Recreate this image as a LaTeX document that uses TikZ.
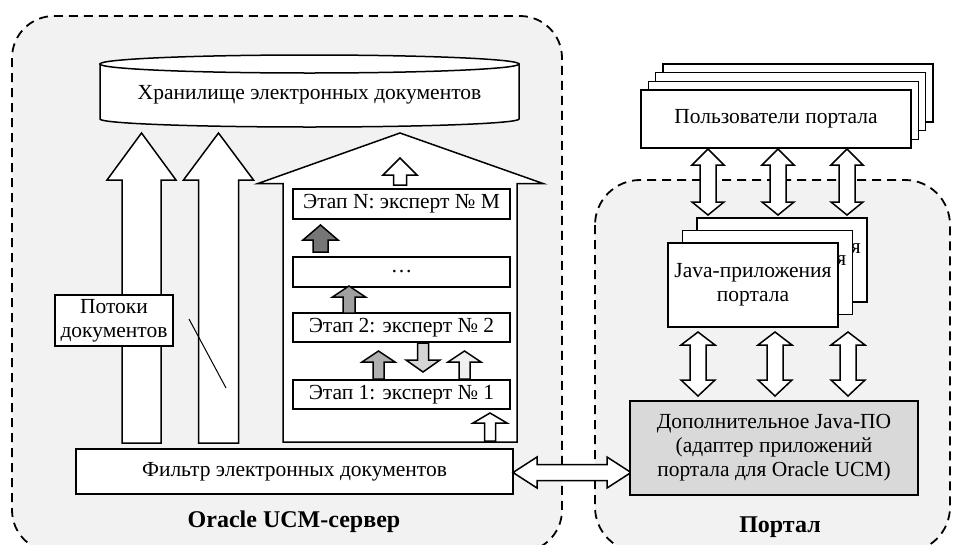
\documentclass[tikz,border=0pt]{standalone}
\usepackage{fontspec}
\setmainfont{Liberation Serif}
\definecolor{regfill}{HTML}{F2F2F2}
\definecolor{adfill}{HTML}{D9D9D9}
\definecolor{arDark}{HTML}{767676}
\definecolor{arMid}{HTML}{A0A0A0}
\definecolor{arGray}{HTML}{B0B0B0}
\definecolor{arLight}{HTML}{D6D6D6}
\definecolor{arPale}{HTML}{F0F0F0}
% block arrow: fill, cx, tip y, head base y, tail y, head half width, shaft half width
\newcommand{\blockup}[7]{%
  \draw[blk,fill=#1] (#2,#3) -- ({#2+#6},#4) -- ({#2+#7},#4) -- ({#2+#7},#5)
    -- ({#2-#7},#5) -- ({#2-#7},#4) -- ({#2-#6},#4) -- cycle;}
% vertical double arrow: cx, tip1, base1, base2, tip2, head half, shaft half
\newcommand{\dblv}[7]{%
  \draw[blk,fill=white] (#1,#2) -- ({#1+#6},#3) -- ({#1+#7},#3) -- ({#1+#7},#4)
    -- ({#1+#6},#4) -- (#1,#5) -- ({#1-#6},#4) -- ({#1-#7},#4) -- ({#1-#7},#3)
    -- ({#1-#6},#3) -- cycle;}
% horizontal double arrow: cy, tip1, base1, base2, tip2, head half, shaft half
\newcommand{\dblh}[7]{%
  \draw[blk,fill=white] (#2,#1) -- (#3,{#1-#6}) -- (#3,{#1-#7}) -- (#4,{#1-#7})
    -- (#4,{#1-#6}) -- (#5,#1) -- (#4,{#1+#6}) -- (#4,{#1+#7}) -- (#3,{#1+#7})
    -- (#3,{#1+#6}) -- cycle;}
\begin{document}
\begin{tikzpicture}[x=1pt,y=-1pt,
  font=\fontsize{21.5}{24}\selectfont,
  region/.style={draw=black, fill=regfill, line width=1.8pt, dash pattern=on 9pt off 6pt},
  blk/.style={draw=black, line width=1.5pt, line join=miter},
  box/.style={draw=black, fill=white, line width=1.5pt, inner sep=0pt, align=center},
  lbl/.style={font=\fontsize{24}{28}\selectfont\bfseries}]
\useasboundingbox (0,0) rectangle (955,544);

% regions
\draw[region, rounded corners=42pt] (12,16) rectangle (562,552);
\draw[region, rounded corners=45pt] (595,180) rectangle (950,552);

% storage cylinder
\filldraw[blk, fill=white] (100,64) -- (100,119)
  arc[start angle=180, end angle=0, x radius=209.5, y radius=8] -- (519,64) -- cycle;
\filldraw[blk, fill=white] (309.5,64) ellipse[x radius=209.5, y radius=9];
\node (store) at (309.5,95) {Хранилище электронных документов};

% big flow arrows
\blockup{white}{141.5}{133}{180}{443}{34.5}{19.5}
\blockup{white}{218.5}{133}{180}{443}{35}{20}

\node[box, minimum width=118pt, minimum height=51pt] (flows) at (114,320.5)
  {Потоки\\документов};
\draw[line width=1pt] (189,319) -- (226,388);

% house-shaped arrow
\draw[blk, fill=white] (400,133) -- (543,183.5) -- (517,183.5) -- (517,442)
  -- (283,442) -- (283,183.5) -- (258,183.5) -- cycle;

% stages
\node[box, minimum width=217pt, minimum height=30pt] (stN) at (401.5,204) {Этап N: эксперт № M};
\node[box, minimum width=217pt, minimum height=30pt] (stD) at (401.5,272) {…};
\node[box, minimum width=217pt, minimum height=29pt] (st2) at (401.5,327.5) {Этап 2: эксперт № 2};
\node[box, minimum width=217pt, minimum height=29pt] (st1) at (401.5,394.5) {Этап 1: эксперт № 1};

\blockup{white}{400}{158}{175}{185}{17}{6.5}
\blockup{arDark}{320.5}{225}{240}{252}{17.5}{7.5}
\blockup{arMid}{349}{286}{297}{313}{16.5}{6}
\blockup{arGray}{378.5}{351}{362}{379}{16.5}{5.5}
\blockup{arLight}{423}{372}{360}{343}{17}{5.5}
\blockup{arPale}{464.5}{351}{362}{379}{16.5}{5.5}
\blockup{white}{490}{413}{423}{441}{17}{5.5}

% filter
\node[box, minimum width=437pt, minimum height=45pt] (filter) at (294.5,471.5)
  {Фильтр электронных документов};

% link filter <-> adapter
\dblh{472.5}{513}{537}{607}{631}{15.5}{8}

% portal users
\foreach \i in {3,2,1}
  \node[box, minimum width=270pt, minimum height=58pt] (usr\i) at ({776+7.3*\i},{119-8.7*\i}) {};
\node[box, minimum width=270pt, minimum height=58pt] (users) at (776,119) {Пользователи портала};

\dblv{708}{149}{165}{202}{215}{16}{8}
\dblv{778}{149}{165}{202}{215}{16}{8}
\dblv{847}{149}{165}{202}{215}{16}{8}

% java apps (stacked copies; only the end of their first line peeks out)
\node[box, minimum width=170pt, minimum height=84pt] (java2) at (782,260) {};
\node[anchor=base east, inner sep=0pt] (java2t) at (861,253) {я};
\node[box, minimum width=170pt, minimum height=84pt] (java1) at (767.5,272.5) {};
\node[anchor=base east, inner sep=0pt] (java1t) at (846.5,265.5) {я};
\node[box, minimum width=170pt, minimum height=84pt] (java) at (753,285) {Java-приложения\\портала};

\dblv{698}{332}{345}{380}{396}{17}{8}
\dblv{775}{332}{345}{380}{396}{17}{8}
\dblv{848}{332}{345}{380}{396}{17}{8}

% adapter
\node[box, fill=adfill, minimum width=288pt, minimum height=94pt] (adapter) at (774,448)
  {Дополнительное Java-ПО\\(адаптер приложений\\портала для Oracle UCM)};

% region labels
\node[lbl] (ucm) at (294,522) {Oracle UCM-сервер};
\node[lbl] (portal) at (780,527) {Портал};
\end{tikzpicture}
\end{document}
